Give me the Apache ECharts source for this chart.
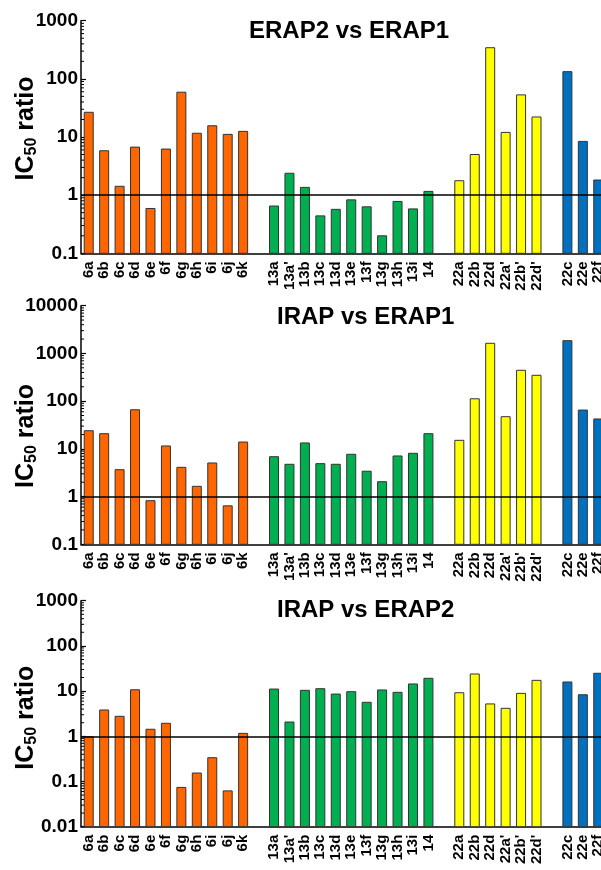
<!DOCTYPE html>
<html>
<head>
<meta charset="utf-8">
<script src="https://cdn.jsdelivr.net/npm/echarts@6/dist/echarts.min.js"></script>
<style>
  html, body { margin: 0; padding: 0; background: #fff; }
  #chart { width: 601px; height: 870px; }
</style>
</head>
<body>
<div id="chart"></div>
<script>
// compound labels, blank slots separate the groups
const categories = ['6a', '6b', '6c', '6d', '6e', '6f', '6g', '6h', '6i', '6j', '6k', ' ',
  '13a', "13a'", '13b', '13c', '13d', '13e', '13f', '13g', '13h', '13i', '14', '  ',
  '22a', '22b', '22d', "22a'", "22b'", "22d'", '   ',
  '22c', '22e', '22f']
// group of each category (null = gap)
const groups = ['o', 'o', 'o', 'o', 'o', 'o', 'o', 'o', 'o', 'o', 'o', null,
  'g', 'g', 'g', 'g', 'g', 'g', 'g', 'g', 'g', 'g', 'g', null,
  'y', 'y', 'y', 'y', 'y', 'y', null,
  'b', 'b', 'b']
const groupColors = { o: '#ff6600', g: '#00b050', y: '#ffff00', b: '#0070c0' }

// ERAP2 vs ERAP1
const erap2VsErap1 = [26.6, 5.8, 1.42, 6.7, 0.59, 6.2, 59, 11.6, 15.6, 11.1, 12.5, null,
  0.65, 2.38, 1.36, 0.44, 0.57, 0.83, 0.63, 0.20, 0.78, 0.58, 1.16, null,
  1.77, 5.0, 343, 12.0, 53, 22.1, null,
  133, 8.4, 1.82]
// IRAP vs ERAP1
const irapVsErap1 = [24, 20.8, 3.66, 66, 0.82, 11.5, 4.1, 1.64, 5.06, 0.64, 13.9, null,
  6.85, 4.75, 13.3, 4.9, 4.75, 7.7, 3.4, 2.05, 7.1, 8.07, 20.8, null,
  15.1, 112, 1630, 47.2, 443, 348, null,
  1850, 65, 42.3]
// IRAP vs ERAP2
const irapVsErap2 = [0.98, 3.82, 2.77, 10.7, 1.43, 1.94, 0.074, 0.154, 0.336, 0.062, 1.16, null,
  11.1, 2.07, 10.4, 11.3, 8.6, 9.7, 5.65, 10.6, 9.4, 14.4, 19.2, null,
  9.2, 23.9, 5.2, 4.16, 8.9, 17.3, null,
  15.9, 8.3, 24.8]

const titles = ['ERAP2 vs ERAP1', 'IRAP vs ERAP1', 'IRAP vs ERAP2']
const yRanges = [[0.1, 1000], [0.1, 10000], [0.01, 1000]]
const panelData = [erap2VsErap1, irapVsErap1, irapVsErap2]

// layout
const grids = [
  { top: 20.7, height: 232.6 },
  { top: 305.7, height: 238.6 },
  { top: 600.7, height: 226 }
]
const titlePos = [{ left: 249, top: 19 }, { left: 277, top: 305 }, { left: 277, top: 598 }]
const namePadding = [[0, 0, 0, 17], [0, 22, 0, 0], [0, 8, 0, 0]]

const font = "'Liberation Sans', Arial, sans-serif"

function minorValues(range) {
  let out = []
  for (let p = range[0]; p < range[1] - 1e-9; p *= 10) {
    for (let k = 2; k <= 9; k++) out.push([0, +(p * k).toPrecision(3)])
  }
  return out
}

let chart = echarts.init(document.getElementById('chart'), null, { renderer: 'canvas' })

let option = {
  animation: false,
  title: titles.map((t, i) => ({
    text: t,
    left: titlePos[i].left,
    top: titlePos[i].top,
    padding: 0,
    textStyle: { fontFamily: font, fontWeight: 'bold', fontSize: 24, color: '#000' }
  })),
  grid: grids.map(g => ({
    left: 81, right: -5, top: g.top, height: g.height,
    containLabel: false, outerBoundsMode: 'none'
  })),
  xAxis: grids.map((g, i) => ({
    type: 'category',
    gridIndex: i,
    data: categories,
    axisLine: { lineStyle: { color: '#000', width: 1.5 } },
    axisTick: { alignWithLabel: true, length: 4, lineStyle: { color: '#000', width: 1.2 } },
    axisLabel: {
      interval: 0, rotate: 90, margin: 8, hideOverlap: false,
      fontFamily: font, fontWeight: 'bold', fontSize: 15, color: '#000'
    }
  })),
  yAxis: grids.map((g, i) => ({
    type: 'log',
    logBase: 10,
    gridIndex: i,
    min: yRanges[i][0],
    max: yRanges[i][1],
    name: '{m|IC}{s|50}{m| ratio}',
    nameLocation: 'middle',
    nameRotate: 90,
    nameGap: 41,
    nameMoveOverlap: false,
    nameTextStyle: {
      padding: namePadding[i],
      rich: {
        m: { fontFamily: font, fontWeight: 'bold', fontSize: 25, color: '#000', lineHeight: 28 },
        s: { fontFamily: font, fontWeight: 'bold', fontSize: 16, color: '#000', lineHeight: 14, verticalAlign: 'bottom' }
      }
    },
    splitLine: { show: false },
    axisLine: { show: true, lineStyle: { color: '#000', width: 1.5 } },
    axisTick: { show: true, inside: true, length: 5, lineStyle: { color: '#000', width: 1.2 } },
    axisLabel: {
      margin: 3,
      fontFamily: font, fontWeight: 'bold', fontSize: 19, color: '#000',
      formatter: v => String(v)
    }
  })),
  series: []
}

panelData.forEach((vals, i) => {
  const yMin = yRanges[i][0]
  // bars drawn from the bottom of the log axis up to the value
  option.series.push({
    type: 'custom',
    xAxisIndex: i,
    yAxisIndex: i,
    z: 3,
    data: vals.map((v, j) => v == null ? null : {
      value: [j, v],
      itemStyle: { color: groupColors[groups[j]] }
    }).filter(d => d),
    renderItem: function (params, api) {
      let top = api.coord([api.value(0), api.value(1)])
      let base = api.coord([api.value(0), yMin])
      return {
        type: 'rect',
        shape: { x: top[0] - 4.5, y: top[1], width: 9, height: base[1] - top[1] },
        style: { fill: api.visual('color'), stroke: '#333', lineWidth: 1 }
      }
    },
    markLine: {
      silent: true,
      symbol: 'none',
      z: 10,
      label: { show: false },
      lineStyle: { color: '#000', width: 1.5, type: 'solid' },
      data: [{ yAxis: 1 }]
    }
  })
  // minor ticks at 2..9 of each decade
  option.series.push({
    type: 'custom',
    xAxisIndex: i,
    yAxisIndex: i,
    silent: true,
    z: 5,
    data: minorValues(yRanges[i]),
    renderItem: function (params, api) {
      let y = api.coord([0, api.value(1)])[1]
      let x0 = params.coordSys.x
      return {
        type: 'line',
        shape: { x1: x0, y1: y, x2: x0 + 3, y2: y },
        style: { stroke: '#000', lineWidth: 1 }
      }
    }
  })
})

chart.setOption(option)
</script>
</body>
</html>
